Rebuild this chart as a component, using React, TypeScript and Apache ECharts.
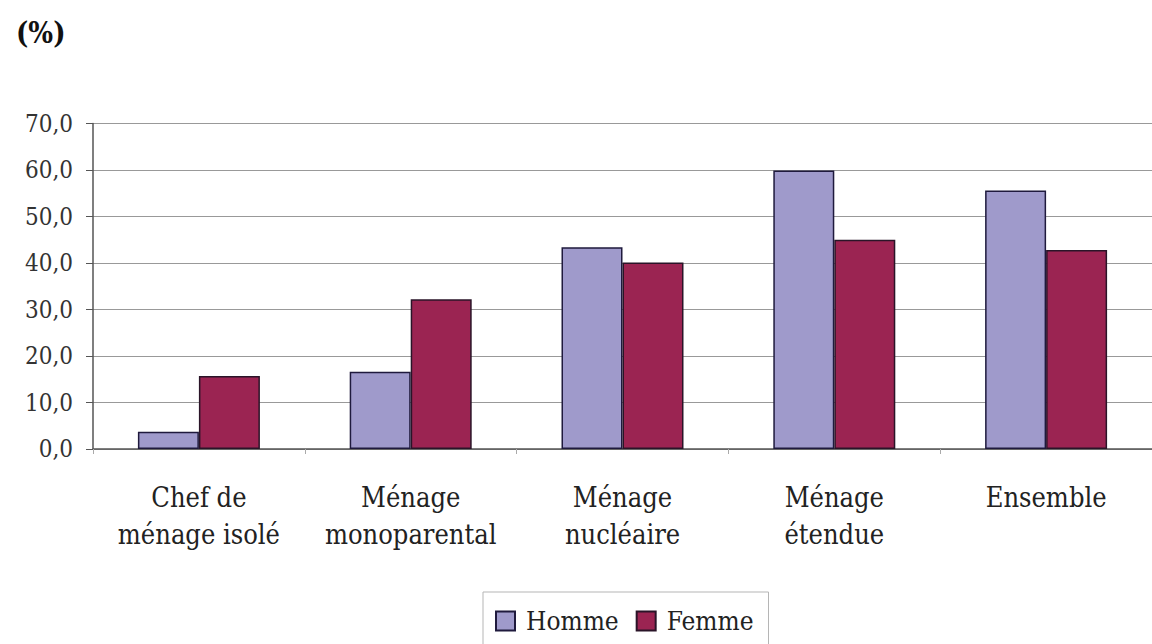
import React, { useEffect, useRef } from "react";
import * as echarts from "echarts";

const categories = [
  "Chef de\nménage isolé",
  "Ménage\nmonoparental",
  "Ménage\nnucléaire",
  "Ménage\nétendue",
  "Ensemble",
];
const seriesNames = ["Homme", "Femme"];
const hommeValues = [3.7, 16.6, 43.4, 59.9, 55.6];
const femmeValues = [15.7, 32.2, 40.1, 45.0, 42.8];
const yMin = 0;
const yMax = 70;
const yInterval = 10;

const FONT = "DejaVu Serif Condensed";

export default function App() {
  const ref = useRef<HTMLDivElement>(null);
  useEffect(() => {
    if (!ref.current) return;
    const chart = echarts.init(ref.current, undefined, { renderer: "svg" });
    chart.setOption({
      animation: false,
      backgroundColor: "#ffffff",
      textStyle: { fontFamily: FONT },
      title: {
        text: "(%)",
        left: 11,
        top: 13,
        textStyle: { fontFamily: FONT, fontWeight: "bold", fontSize: 29, color: "#111" },
      },
      legend: {
        data: seriesNames,
        left: 483,
        top: 592,
        icon: "rect",
        itemWidth: 19,
        itemHeight: 19,
        itemGap: 17,
        padding: [16, 15, 16, 12],
        borderColor: "#b5b5b5",
        borderWidth: 1,
        textStyle: { fontFamily: FONT, fontSize: 26, color: "#222", padding: [0, 0, 0, 6] },
      },
      grid: { left: 93, top: 123.5, width: 1068, height: 325.5, containLabel: false },
      xAxis: {
        type: "category",
        data: categories,
        boundaryGap: true,
        axisLine: { lineStyle: { color: "#555", width: 1.5 } },
        axisTick: { show: true, length: 5, lineStyle: { color: "#aaa" } },
        axisLabel: {
          interval: 0,
          margin: 30,
          fontFamily: FONT,
          fontSize: 27,
          lineHeight: 37,
          color: "#222",
        },
      },
      yAxis: {
        type: "value",
        min: yMin,
        max: yMax,
        interval: yInterval,
        axisLine: { show: true, lineStyle: { color: "#555", width: 1.5 } },
        axisTick: { show: true, length: 7, lineStyle: { color: "#555" } },
        splitLine: { show: true, lineStyle: { color: "#999", width: 1 } },
        axisLabel: {
          margin: 20,
          fontFamily: FONT,
          fontSize: 24,
          color: "#333",
          formatter: (v: number) => v.toFixed(1).replace(".", ","),
        },
      },
      series: [
        {
          name: seriesNames[0],
          type: "bar",
          data: hommeValues,
          barGap: "0%",
          barCategoryGap: "42.4%",
          itemStyle: { color: "#9f9acb", borderColor: "#1f1a3d", borderWidth: 1.5 },
        },
        {
          name: seriesNames[1],
          type: "bar",
          data: femmeValues,
          barGap: "0%",
          barCategoryGap: "42.4%",
          itemStyle: { color: "#9b2452", borderColor: "#2a1428", borderWidth: 1.5 },
        },
      ],
    });
    return () => chart.dispose();
  }, []);
  return (
    <div
      ref={ref}
      style={{ position: "fixed", left: 0, top: 0, width: 1152, height: 644, background: "#fff" }}
    />
  );
}
